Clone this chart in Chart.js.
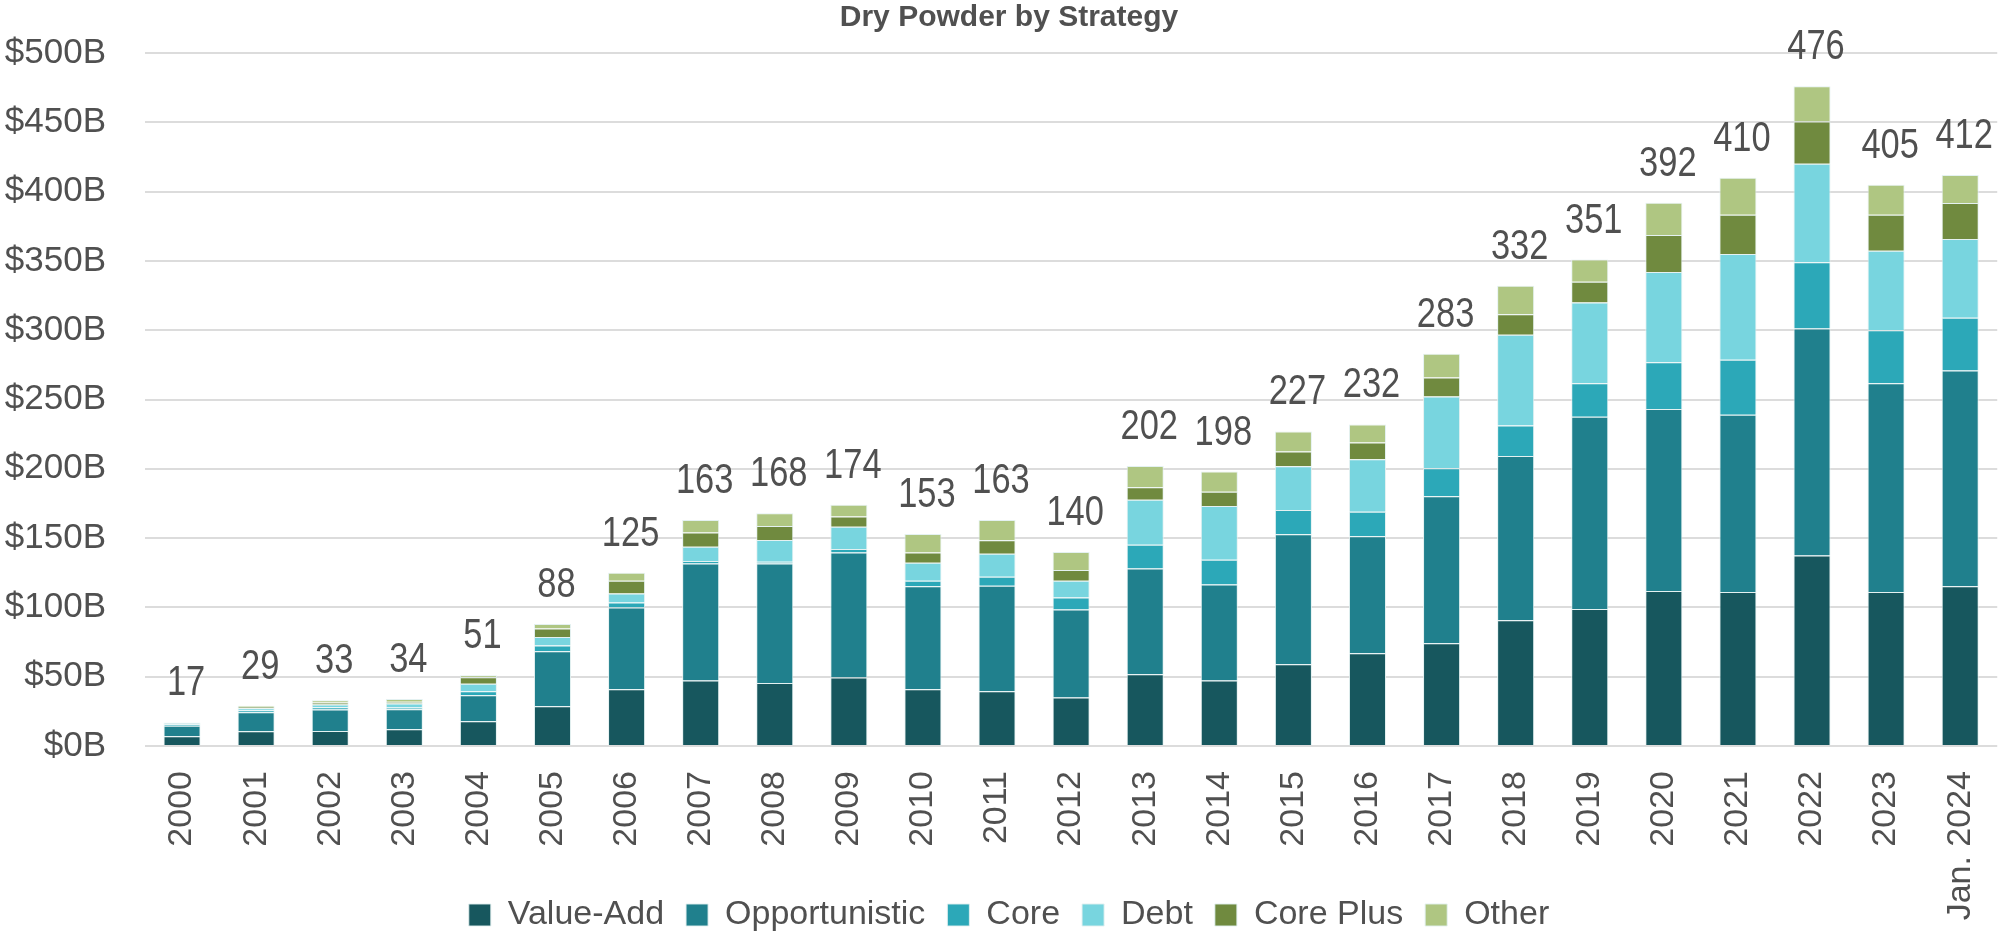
<!DOCTYPE html>
<html>
<head>
<meta charset="utf-8">
<script src="https://cdn.jsdelivr.net/npm/chart.js@4.4.1/dist/chart.umd.min.js"></script>
<style>
  html, body { margin: 0; padding: 0; background: #fff; overflow: hidden; }
  #wrap { position: absolute; left: 0; top: 0; width: 2018px; height: 931px; }
</style>
</head>
<body>
<div id="wrap"><canvas id="powderChart" width="2018" height="931"></canvas></div>
<script>
const years = ["2000", "2001", "2002", "2003", "2004", "2005", "2006", "2007", "2008", "2009", "2010", "2011", "2012",
  "2013", "2014", "2015", "2016", "2017", "2018", "2019", "2020", "2021", "2022", "2023", "Jan. 2024"];

// $B per strategy
const valueAdd = [7, 10.6, 10.8, 12, 17.8, 28.7, 41, 47.2, 45.5, 49.4, 41, 39.5, 35, 51.8, 47.2, 59, 67, 74.2, 90.7, 98.8, 111.8, 111.1, 137.4, 111.1, 115.3];
const opportunistic = [7.6, 13.7, 15.5, 14.5, 18.8, 39.7, 59, 84.5, 86.2, 90.3, 74.2, 76.1, 63.5, 76.3, 69.4, 93.7, 84.3, 106, 118.5, 138.8, 131.4, 127.9, 163.9, 150.6, 155.6];
const core = [1.1, 1.5, 1.7, 1.2, 2.9, 4.1, 3.6, 1.7, 1.2, 2.4, 4.1, 6.5, 8.7, 17.1, 17.8, 17.6, 17.8, 20.2, 22.1, 24.1, 33.6, 39.6, 47.7, 38.2, 38.1];
const debt = [0.7, 1.4, 1.9, 2.9, 5.5, 6.1, 6.5, 10.4, 15.7, 16.1, 13, 16.6, 12, 32.5, 38.8, 31.5, 37.8, 51.8, 65.5, 58.2, 65.2, 76.3, 71.1, 57.5, 56.8];
const corePlus = [0.3, 1.2, 1.4, 1.3, 4.6, 6.2, 9.1, 10.3, 10.1, 7.3, 7.3, 9.7, 7.7, 9, 10.3, 10.6, 12, 13.7, 14.7, 15.1, 26.6, 28.4, 30.5, 25.9, 25.9];
const other = [0.3, 0.6, 1.7, 2.1, 1.4, 3.2, 5.8, 8.9, 9.3, 8.5, 13.4, 14.6, 13.1, 15.3, 14.5, 14.6, 13.1, 17.1, 20.5, 16, 23.4, 26.7, 25.4, 21.7, 20.3];
const totals = [17, 29, 33, 34, 51, 88, 125, 163, 168, 174, 153, 163, 140, 202, 198, 227, 232, 283, 332, 351, 392, 410, 476, 405, 412];

const TEXT = "#505050";
const SANS = "'Liberation Sans', Arial, sans-serif";

const series = [
  { label: "Value-Add", data: valueAdd, color: "#17575e" },
  { label: "Opportunistic", data: opportunistic, color: "#20808d" },
  { label: "Core", data: core, color: "#2ca8b8" },
  { label: "Debt", data: debt, color: "#78d5df" },
  { label: "Core Plus", data: corePlus, color: "#708a3f" },
  { label: "Other", data: other, color: "#afc682" },
];

// totals above each stack, squeezed a bit to look like a narrow face
const totalLabels = {
  id: "totalLabels",
  afterDatasetsDraw(chart) {
    const ctx = chart.ctx;
    const meta = chart.getDatasetMeta(chart.data.datasets.length - 1);
    ctx.save();
    ctx.font = `42px ${SANS}`;
    ctx.fillStyle = TEXT;
    ctx.textAlign = "center";
    ctx.textBaseline = "alphabetic";
    meta.data.forEach((bar, i) => {
      ctx.save();
      ctx.translate(bar.x + 4, bar.y - 27);
      ctx.scale(0.82, 1);
      ctx.fillText(String(totals[i]), 0, 0);
      ctx.restore();
    });
    ctx.restore();
  },
};

// let the rotated year labels run past the axis box (next to the legend)
const freeTickLabels = {
  id: "freeTickLabels",
  afterLayout(chart) {
    chart.scales.x.bottom = chart.height;
  },
};

new Chart(document.getElementById("powderChart"), {
  type: "bar",
  data: {
    labels: years,
    datasets: series.map((s) => ({
      label: s.label,
      data: s.data,
      backgroundColor: s.color,
      borderColor: "rgba(225,240,240,0.9)",
      borderWidth: 1,
      barPercentage: 0.5,
      categoryPercentage: 1,
    })),
  },
  options: {
    responsive: false,
    animation: false,
    layout: { padding: { left: 0, right: 0, top: 0, bottom: -11 } },
    plugins: {
      title: {
        display: true,
        text: "Dry Powder by Strategy",
        color: TEXT,
        font: { family: SANS, weight: "bold", size: 30, lineHeight: 1 },
        padding: { top: 3, bottom: 20 },
      },
      legend: {
        position: "bottom",
        labels: {
          color: TEXT,
          boxWidth: 22,
          boxHeight: 22,
          padding: 22,
          font: { family: SANS, size: 34, lineHeight: 1 },
        },
      },
      tooltip: { enabled: false },
    },
    scales: {
      x: {
        stacked: true,
        grid: { display: false },
        border: { display: false },
        ticks: {
          color: TEXT,
          font: { family: SANS, size: 34 },
          minRotation: 90,
          maxRotation: 90,
          padding: 17,
          autoSkip: false,
        },
        afterFit: (scale) => { scale.height = 130; },
      },
      y: {
        stacked: true,
        min: 0,
        max: 500,
        border: { display: false },
        grid: { color: "#dcdcdc", lineWidth: 2, drawTicks: false },
        ticks: {
          stepSize: 50,
          color: TEXT,
          padding: 39,
          font: { family: SANS, size: 35 },
          callback: (v) => `$${v}B`,
        },
        afterFit: (scale) => {
          scale.width = 145;
          scale.paddingTop = 0;
          scale.paddingBottom = 0;
        },
      },
    },
  },
  plugins: [totalLabels, freeTickLabels],
});
</script>
</body>
</html>
